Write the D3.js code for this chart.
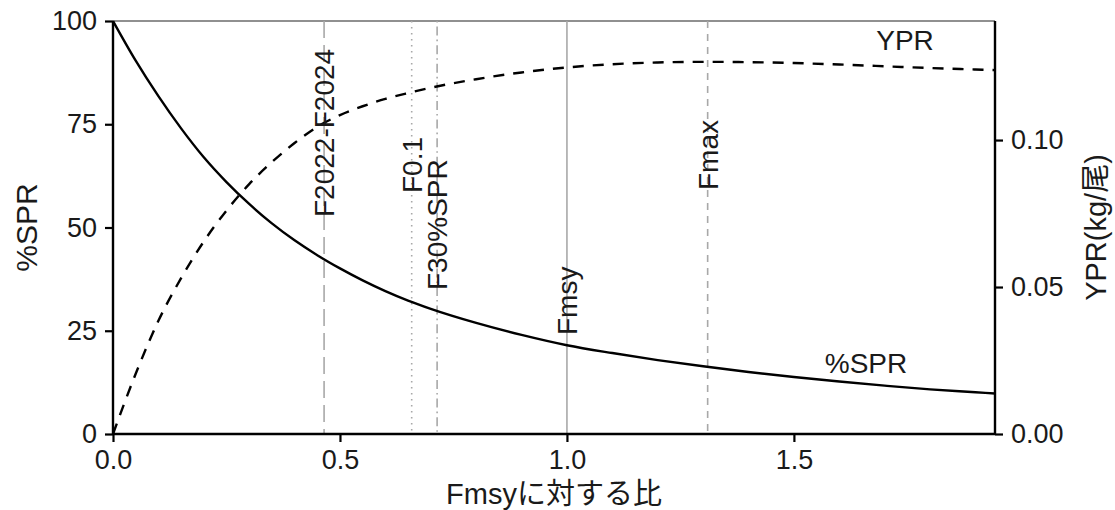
<!DOCTYPE html>
<html>
<head>
<meta charset="utf-8">
<script src="https://cdn.jsdelivr.net/npm/d3@7"></script>
<style>
  html, body { margin: 0; padding: 0; background: #fff; }
  svg text { font-family: "Liberation Sans", Arial, "Noto Sans CJK JP", sans-serif; fill: #1a1a1a; }
</style>
</head>
<body>
<svg id="chart" width="1115" height="510"></svg>
<script>
// Fishing mortality as a multiple of Fmsy
const fRatio = [0, 0.05, 0.1, 0.15, 0.2, 0.25, 0.3, 0.35, 0.4, 0.45, 0.5, 0.55, 0.6, 0.65, 0.7,
                0.8, 0.9, 1.0, 1.1, 1.2, 1.3, 1.4, 1.5, 1.6, 1.7, 1.8, 1.9, 1.943];
// Spawning potential ratio (%)
const sprValues = [100, 90.4, 81.8, 74.0, 67.0, 61.0, 55.7, 51.0, 46.9, 43.3, 40.1, 37.2, 34.6, 32.3, 30.3,
                   26.9, 24.0, 21.5, 19.6, 17.9, 16.4, 15.0, 13.8, 12.7, 11.7, 10.8, 10.1, 9.8];
// Yield per recruit (kg/尾)
const yprValues = [0, 0.0205, 0.0385, 0.053, 0.0655, 0.076, 0.085, 0.0925, 0.099, 0.1045, 0.1085,
                   0.1115, 0.114, 0.116, 0.1178, 0.1207, 0.123, 0.1247, 0.1258, 0.1264, 0.1266,
                   0.1265, 0.1262, 0.1257, 0.1251, 0.1245, 0.124, 0.1238];

// Reference points (ratio to Fmsy)
const refNames = ["F2022-F2024", "F0.1", "F30%SPR", "Fmsy", "Fmax"];
const refValues = [0.465, 0.658, 0.714, 1.0, 1.31];

// Axis ticks
const xTicks = [0, 0.5, 1.0, 1.5];
const xTickLabels = ["0.0", "0.5", "1.0", "1.5"];
const yTicks = [0, 25, 50, 75, 100];
const y2Ticks = [0, 0.05, 0.10];
const y2TickLabels = ["0.00", "0.05", "0.10"];

// ---- layout & styles ----
const plot = { left: 113, right: 995, top: 21, bottom: 434 };
const refStyle = {
  "F2022-F2024": { dash: "17,7",        labelEnd: 217 },
  "F0.1":        { dash: "1.6,4.4",     labelEnd: 193 },
  "F30%SPR":     { dash: "1.6,4,9,4",   labelEnd: 290 },
  "Fmsy":        { dash: null,          labelEnd: 335 },
  "Fmax":        { dash: "7,6",         labelEnd: 190 }
};

const svg = d3.select("#chart");

const x = d3.scaleLinear().domain([0, 1.943]).range([plot.left, plot.right]);
const y = d3.scaleLinear().domain([0, 100]).range([plot.bottom, plot.top]);
const y2 = d3.scaleLinear().domain([0, 0.1405]).range([plot.bottom, plot.top]);

// top panel border
svg.append("line")
  .attr("x1", plot.left).attr("x2", plot.right)
  .attr("y1", plot.top).attr("y2", plot.top)
  .attr("stroke", "#6b6b6b").attr("stroke-width", 1.6);

// reference lines
refNames.forEach((name, i) => {
  const st = refStyle[name];
  const xv = x(refValues[i]);
  svg.append("line")
    .attr("x1", xv).attr("x2", xv)
    .attr("y1", plot.top).attr("y2", plot.bottom)
    .attr("stroke", "#a8a8a8").attr("stroke-width", 1.6)
    .attr("stroke-dasharray", st.dash);
});

const pts = fRatio.map((f, i) => ({ f, spr: sprValues[i], ypr: yprValues[i] }));

// %SPR curve
svg.append("path")
  .datum(pts)
  .attr("fill", "none").attr("stroke", "#000").attr("stroke-width", 2.4)
  .attr("d", d3.line().x(d => x(d.f)).y(d => y(d.spr)).curve(d3.curveMonotoneX));

// YPR curve
svg.append("path")
  .datum(pts)
  .attr("fill", "none").attr("stroke", "#000").attr("stroke-width", 2.4)
  .attr("stroke-dasharray", "11,9")
  .attr("d", d3.line().x(d => x(d.f)).y(d => y2(d.ypr)).curve(d3.curveMonotoneX));

// reference labels (vertical)
refNames.forEach((name, i) => {
  const st = refStyle[name];
  const xv = x(refValues[i]) + 10;
  svg.append("text")
    .attr("transform", `translate(${xv},${st.labelEnd}) rotate(-90)`)
    .attr("text-anchor", "start")
    .style("font-size", "28px")
    .text(name);
});

// curve labels
svg.append("text").attr("x", 905).attr("y", 50).attr("text-anchor", "middle")
  .style("font-size", "28px").text("YPR");
svg.append("text").attr("x", 866).attr("y", 373).attr("text-anchor", "middle")
  .style("font-size", "28px").text("%SPR");

// axes
const tickFont = "27px";
const axisStroke = 2.4;

const xAxis = svg.append("g").attr("transform", `translate(0,${plot.bottom})`)
  .call(d3.axisBottom(x).tickValues(xTicks).tickFormat((d, i) => xTickLabels[i]).tickSize(8).tickPadding(8));
const yAxis = svg.append("g").attr("transform", `translate(${plot.left},0)`)
  .call(d3.axisLeft(y).tickValues(yTicks).tickSize(8).tickPadding(8));
const y2Axis = svg.append("g").attr("transform", `translate(${plot.right},0)`)
  .call(d3.axisRight(y2).tickValues(y2Ticks).tickFormat((d, i) => y2TickLabels[i]).tickSize(8).tickPadding(8));

[xAxis, yAxis, y2Axis].forEach(g => {
  g.select(".domain").attr("stroke", "#000").attr("stroke-width", axisStroke);
  g.selectAll(".tick line").attr("stroke", "#000").attr("stroke-width", 2.2);
  g.selectAll(".tick text").style("font-size", tickFont)
    .style("font-family", "'Liberation Sans', Arial, sans-serif").attr("fill", "#1a1a1a");
});
// domain paths without outer ticks
xAxis.select(".domain").attr("d", `M${plot.left},0H${plot.right}`);
yAxis.select(".domain").attr("d", `M0,${plot.bottom}V${plot.top}`);
y2Axis.select(".domain").attr("d", `M0,${plot.bottom}V${plot.top}`);

// axis titles
svg.append("text").attr("x", (plot.left + plot.right) / 2).attr("y", 504)
  .attr("text-anchor", "middle").style("font-size", "29px").text("Fmsyに対する比");
svg.append("text").attr("transform", `translate(37,${(plot.top + plot.bottom) / 2}) rotate(-90)`)
  .attr("text-anchor", "middle").style("font-size", "30px").text("%SPR");
svg.append("text").attr("transform", `translate(1106,${(plot.top + plot.bottom) / 2}) rotate(-90)`)
  .attr("text-anchor", "middle").style("font-size", "29px").text("YPR(kg/尾)");
</script>
</body>
</html>
